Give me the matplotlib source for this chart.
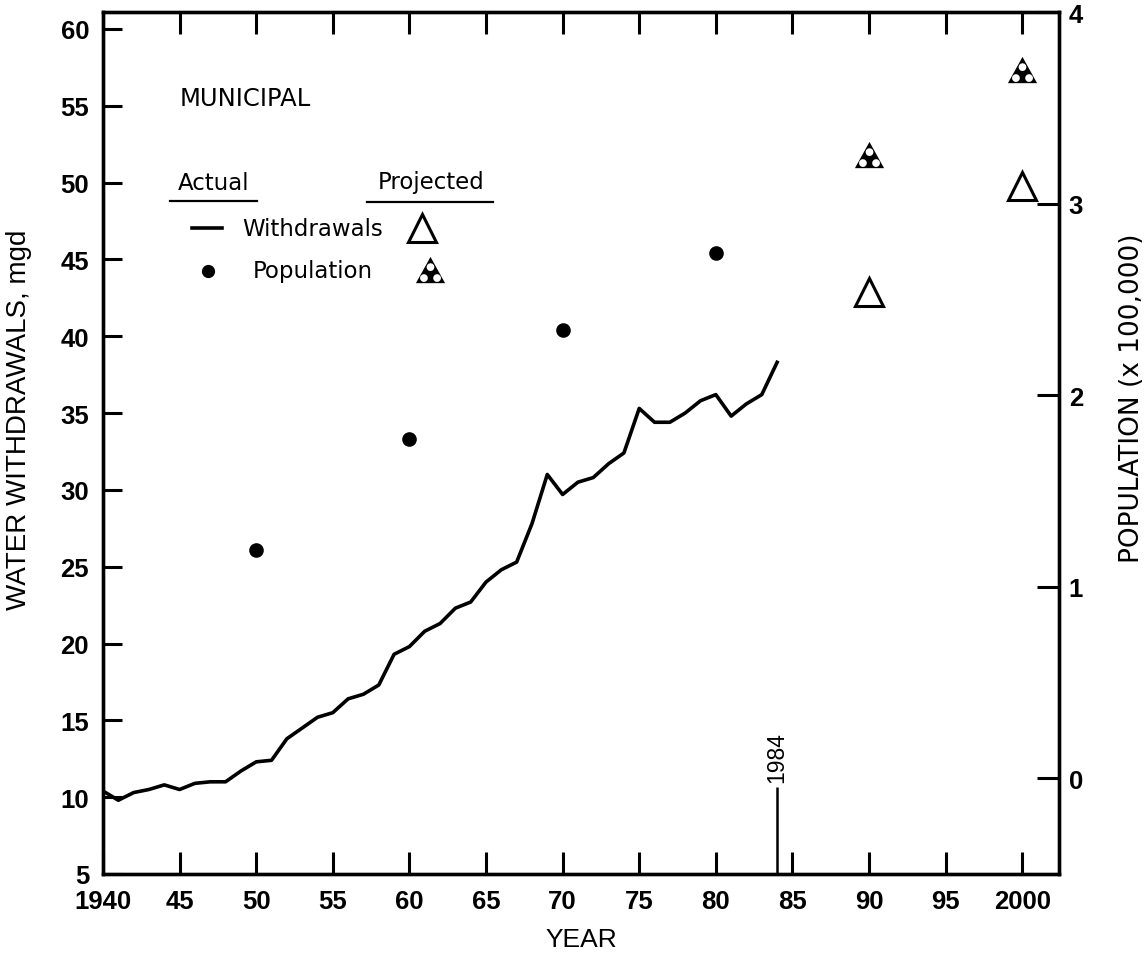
import matplotlib
matplotlib.use('Agg')
import matplotlib.pyplot as plt
from matplotlib.path import Path
from matplotlib.lines import Line2D
import numpy as np

# ---------------- data ----------------
years_actual = [1940, 1941, 1942, 1943, 1944, 1945, 1946, 1947, 1948, 1949,
                1950, 1951, 1952, 1953, 1954, 1955, 1956, 1957, 1958, 1959,
                1960, 1961, 1962, 1963, 1964, 1965, 1966, 1967, 1968, 1969,
                1970, 1971, 1972, 1973, 1974, 1975, 1976, 1977, 1978, 1979,
                1980, 1981, 1982, 1983, 1984]
withdrawals_actual = [10.4, 9.8, 10.3, 10.5, 10.8, 10.5, 10.9, 11.0, 11.0, 11.7,
                      12.3, 12.4, 13.8, 14.5, 15.2, 15.5, 16.4, 16.7, 17.3, 19.3,
                      19.8, 20.8, 21.3, 22.3, 22.7, 24.0, 24.8, 25.3, 27.8, 31.0,
                      29.7, 30.5, 30.8, 31.7, 32.4, 35.3, 34.4, 34.4, 35.0, 35.8,
                      36.2, 34.8, 35.6, 36.2, 38.3]
pop_years = [1950, 1960, 1970, 1980]
pop_actual = [1.19, 1.77, 2.34, 2.74]          # x 100,000
proj_years = [1990, 2000]
withdrawals_proj = [42.9, 49.8]
pop_proj = [3.25, 3.69]
x_ticks = [1940, 1945, 1950, 1955, 1960, 1965, 1970, 1975, 1980, 1985, 1990, 1995, 2000]
x_ticklabels = ['1940', '45', '50', '55', '60', '65', '70', '75', '80', '85', '90', '95', '2000']
y_left_ticks = [5, 10, 15, 20, 25, 30, 35, 40, 45, 50, 55, 60]
y_right_ticks = [0, 1, 2, 3, 4]
marker_year = 1984

# ---------------- style ----------------
plt.rcParams['font.family'] = ['Liberation Sans', 'DejaVu Sans']
W, H = 1146, 954
fig = plt.figure(figsize=(W / 100, H / 100), dpi=100)
fig.patch.set_facecolor('white')


def fp(x, y):
    return x / W, 1 - y / H


ax = fig.add_axes([103 / W, 1 - 875 / H, (1059 - 103) / W, (875 - 13) / H])
ax.set_xlim(1940, 2002.4)
ax.set_ylim(5, 61.1)
ax2 = ax.twinx()
ax2.set_ylim(-0.5, 4.0)


def stippled_triangle():
    verts, codes = [], []
    outer = [(0, 1), (-1, -0.8), (1, -0.8), (0, 1)]
    verts += outer
    codes += [Path.MOVETO, Path.LINETO, Path.LINETO, Path.CLOSEPOLY]
    for cx, cy in [(0, 0.3), (-0.45, -0.45), (0.45, -0.45)]:
        r = 0.27
        ang = np.linspace(0, -2 * np.pi, 13)[:-1]  # clockwise -> hole
        pts = [(cx + r * np.cos(a), cy + r * np.sin(a)) for a in ang]
        verts += pts + [pts[0]]
        codes += [Path.MOVETO] + [Path.LINETO] * (len(pts) - 1) + [Path.CLOSEPOLY]
    return Path(verts, codes)


stip = stippled_triangle()

# actual withdrawals
ax.plot(years_actual, withdrawals_actual, color='black', lw=2.6, solid_joinstyle='round')
# projected withdrawals
ax.plot(proj_years, withdrawals_proj, linestyle='none', marker='^', markersize=20,
        markerfacecolor='white', markeredgecolor='black', markeredgewidth=2.2)
# population
ax2.plot(pop_years, pop_actual, linestyle='none', marker='o', markersize=9.5,
         color='black')
ax2.plot(proj_years, pop_proj, linestyle='none', marker=stip, markersize=21,
         color='black', markeredgewidth=0)

# 1984 marker line
ax.vlines(marker_year, 5, 10.67, color='black', lw=1.8)
ax.text(marker_year, 11.0, '1984', rotation=90, ha='center', va='bottom',
        fontsize=16.5)

# ticks
ax.set_xticks(x_ticks)
ax.set_xticklabels(x_ticklabels)
ax.set_yticks(y_left_ticks)
ax2.set_yticks(y_right_ticks)
ax.tick_params(axis='x', direction='in', top=True, bottom=True, length=16,
               width=2.2, labelsize=18.5, pad=11)
ax.tick_params(axis='y', direction='in', left=True, right=False, length=14,
               width=2.2, labelsize=18.5, pad=10)
ax2.tick_params(axis='y', direction='in', right=True, left=False, length=16,
                width=2.2, labelsize=18.5, pad=7)
for lab in ax.get_xticklabels() + ax.get_yticklabels() + ax2.get_yticklabels():
    lab.set_fontweight('bold')
for a in (ax, ax2):
    for s in a.spines.values():
        s.set_linewidth(2.4)

# axis labels
ax.set_xlabel('YEAR', fontsize=19, labelpad=10)
ax.set_ylabel('WATER WITHDRAWALS, mgd', fontsize=20)
ax.yaxis.set_label_coords(-0.074, 0.528)
ax2.set_ylabel('POPULATION (x 100,000)', fontsize=19, family='DejaVu Sans')
ax2.yaxis.set_label_coords(1.063, 0.553)

# ---------------- legend / annotation ----------------
lfont = dict(family='DejaVu Sans', fontsize=16.5, color='black')
fig.text(*fp(180, 99), 'MUNICIPAL', ha='left', va='center',
         family='DejaVu Sans', fontsize=17.5)
fig.text(*fp(178, 183), 'Actual', ha='left', va='center', **lfont)
fig.text(*fp(378, 183), 'Projected', ha='left', va='center', **lfont)
fig.add_artist(Line2D([170 / W, 257 / W], [1 - 202 / H] * 2, color='black', lw=1.6))
fig.add_artist(Line2D([367 / W, 493 / W], [1 - 203 / H] * 2, color='black', lw=1.6))

fig.add_artist(Line2D([192 / W, 222 / W], [1 - 229 / H] * 2, color='black', lw=2.6))
fig.text(*fp(242, 229), 'Withdrawals', ha='left', va='center', **lfont)
fig.add_artist(Line2D([422 / W], [1 - 229 / H], linestyle='none', marker='^',
                      markersize=20, markerfacecolor='white', markeredgecolor='black',
                      markeredgewidth=2.2))

fig.add_artist(Line2D([208 / W], [1 - 272 / H], linestyle='none', marker='o',
                      markersize=8.5, color='black'))
fig.text(*fp(253, 272), 'Population', ha='left', va='center', **lfont)
fig.add_artist(Line2D([430 / W], [1 - 272 / H], linestyle='none', marker=stip,
                      markersize=21, color='black', markeredgewidth=0))

fig.savefig('out.png', dpi=100, facecolor='white')
